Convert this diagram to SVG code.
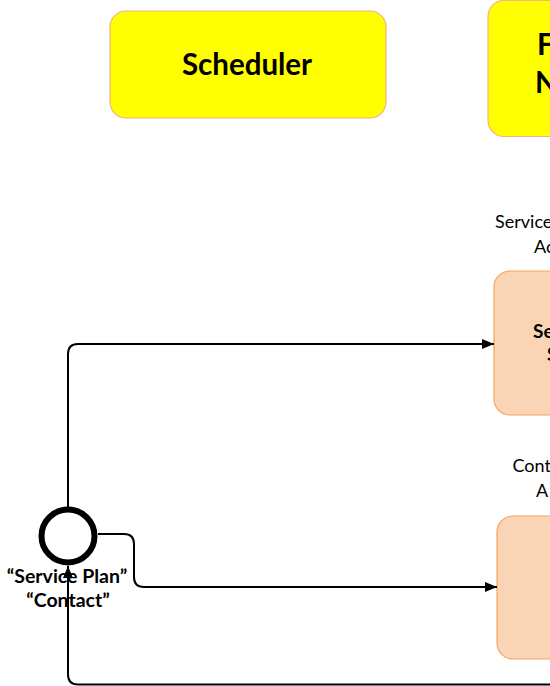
<svg xmlns="http://www.w3.org/2000/svg" width="550" height="686" viewBox="0 0 550 686">
<defs>
<style>
.yel{fill:#FFFF00;stroke:#F4B183;stroke-width:1.2}
.org{fill:#FAD5B5;stroke:#F4A460;stroke-width:1.2}
.hb{font-family:Lato,"Liberation Sans",Arial,sans-serif;font-weight:bold;fill:#000}
.lb{font-family:Lato,"Liberation Sans",Arial,sans-serif;fill:#000}
.con{fill:none;stroke:#000;stroke-width:2}
</style>
<marker id="arr" viewBox="0 0 12 10" refX="12" refY="5" markerWidth="12" markerHeight="10" markerUnits="userSpaceOnUse" orient="auto">
<path d="M0,0 L12,5 L0,10 Z" fill="#000"/>
</marker>
</defs>
<rect width="550" height="686" fill="#fff"/>
<g id="scheduler">
<rect class="yel" x="110" y="11" width="276" height="107" rx="16"/>
<text class="hb" x="247" y="75" font-size="29.5" text-anchor="middle">Scheduler</text>
</g>
<g id="node-f">
<rect class="yel" x="488" y="0.5" width="90" height="136" rx="16"/>
<text class="hb" x="537" y="55" font-size="29.5">F</text>
<text class="hb" x="535" y="93" font-size="29.5">N</text>
</g>
<g id="service-task">
<text class="lb" x="495" y="228" font-size="18">Service</text>
<text class="lb" x="534" y="253" font-size="18">Ac</text>
<rect class="org" x="494" y="271" width="90" height="144" rx="16"/>
<text class="hb" x="533" y="338" font-size="19">Se</text>
<text class="hb" x="547" y="361" font-size="19">S</text>
</g>
<g id="contact-task">
<text class="lb" x="512.5" y="472" font-size="18">Cont</text>
<text class="lb" x="536" y="497" font-size="18">A</text>
<rect class="org" x="497" y="516" width="90" height="143" rx="16"/>
</g>
<g id="gateway">
<circle cx="68" cy="536" r="26.5" fill="#fff" stroke="#000" stroke-width="6"/>
</g>
<g id="connectors">
<path class="con" d="M68,507 L68,354 Q68,344 78,344 L494,344" marker-end="url(#arr)"/>
<path class="con" d="M98,534 L124,534 Q134,534 134,544 L134,577 Q134,587 144,587 L497,587" marker-end="url(#arr)"/>
<path class="con" d="M552,684.5 L78,684.5 Q68,684.5 68,674.5 L68,566" marker-end="url(#arr)"/>
</g>
<g id="gateway-label">
<text class="hb" x="67" y="583" font-size="19.5" text-anchor="middle">“Service Plan”</text>
<text class="hb" x="68" y="607" font-size="19.5" text-anchor="middle">“Contact”</text>
</g>
</svg>
